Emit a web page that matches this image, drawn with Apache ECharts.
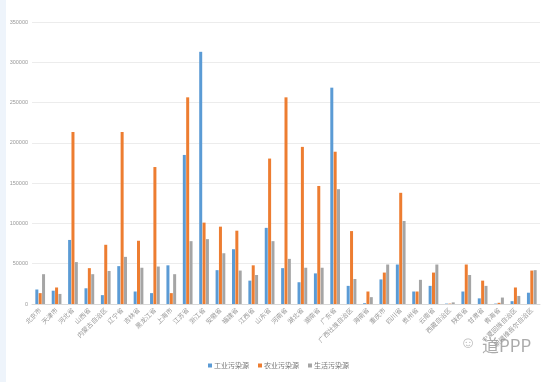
<!DOCTYPE html>
<html><head><meta charset="utf-8">
<script src="https://cdn.jsdelivr.net/npm/echarts@6/dist/echarts.min.js"></script>
<style>html,body{margin:0;padding:0;background:#fff;}#c{width:557px;height:382px;}</style>
</head><body><div id="c"></div>
<script>
const categories = ['北京市','天津市','河北省','山西省','内蒙古自治区','辽宁省','吉林省','黑龙江省','上海市','江苏省','浙江省','安徽省','福建省','江西省','山东省','河南省','湖北省','湖南省','广东省','广西壮族自治区','海南省','重庆市','四川省','贵州省','云南省','西藏自治区','陕西省','甘肃省','青海省','宁夏回族自治区','新疆维吾尔自治区'];
const industrial = [18000,16500,79500,19500,11000,47000,15500,13500,48000,185000,313000,42000,68000,29000,94500,44500,27000,38000,268500,22500,1000,30500,49000,15500,22500,500,15500,7000,500,3500,14000];
const agricultural = [13500,20500,213500,44500,73500,213500,78500,170000,13500,256500,101000,96000,91000,48000,180500,256500,195000,146500,189000,90500,15500,39000,138000,15500,39000,500,49000,29000,1500,20500,41500];
const living = [37000,12500,52000,37000,41000,58500,45000,46500,37000,78000,80500,63000,41500,36000,78000,56000,45000,45000,142500,31000,8500,49000,103000,30000,49000,2000,36000,22500,8000,10000,42000];
const seriesNames = ['工业污染源','农业污染源','生活污染源'];
const yTicks = {min:0, max:350000, interval:50000};

const chart = echarts.init(document.getElementById('c'));
const font = '"Noto Sans CJK SC", sans-serif';
const mk = (name, data, color) => ({
  name, type:'bar', data, barWidth:3, barGap:'12%',
  itemStyle:{color}, animation:false
});
chart.setOption({
  animation:false,
  grid:{left:32, right:17, top:22, bottom:78, containLabel:false},
  legend:{
    bottom:8, left:'center', itemWidth:4, itemHeight:4, itemGap:9,
    icon:'rect',
    textStyle:{fontSize:7, color:'#777', fontFamily:font, padding:[0,0,0,-3]},
    data:seriesNames
  },
  xAxis:{
    type:'category', data:categories,
    axisLine:{lineStyle:{color:'#d9d9d9'}},
    axisTick:{show:false},
    axisLabel:{interval:0, rotate:45, fontSize:6.5, color:'#999', fontFamily:font, margin:5}
  },
  yAxis:{
    type:'value', min:yTicks.min, max:yTicks.max, interval:yTicks.interval,
    axisLine:{show:false}, axisTick:{show:false},
    axisLabel:{fontSize:5.5, color:'#999', margin:4, formatter:v => String(v)},
    splitLine:{lineStyle:{color:'#ececec'}}
  },
  series:[
    mk(seriesNames[0], industrial, '#5b9bd5'),
    mk(seriesNames[1], agricultural, '#ed7d31'),
    mk(seriesNames[2], living, '#a5a5a5')
  ],
  graphic:[
    {type:'rect', left:0, top:0, shape:{width:6, height:382}, style:{fill:'#eef4fb'}},
    {type:'text', left:460, top:336, style:{text:'☺', fontSize:16, fill:'#bbb'}},
    {type:'text', left:482, top:337, style:{text:'道PPP', fontSize:17, fill:'#aaa', fontFamily:font}}
  ]
});
</script></body></html>
